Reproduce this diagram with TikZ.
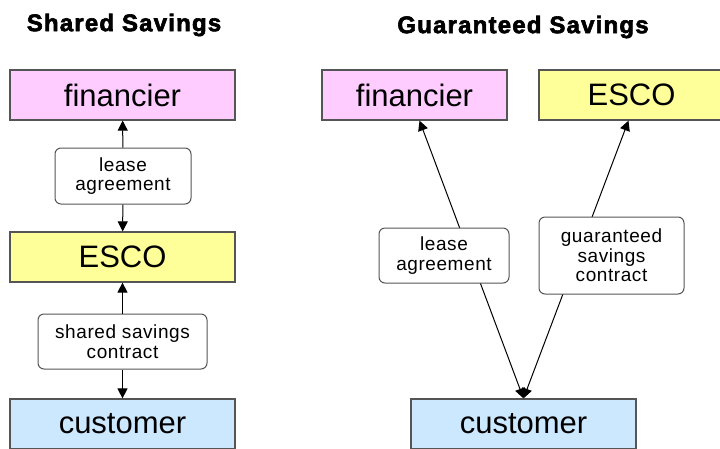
\documentclass[tikz,border=0pt]{standalone}
\usepackage{fontspec}
\setmainfont{Liberation Sans}
\usetikzlibrary{arrows.meta}
\definecolor{pinkbox}{RGB}{255,204,255}
\definecolor{yellowbox}{RGB}{255,255,153}
\definecolor{bluebox}{RGB}{204,232,255}
\definecolor{edge}{RGB}{85,85,85}
\tikzset{
  party/.style={draw=edge, line width=1.2pt, minimum height=50pt, inner sep=0pt,
    font=\fontsize{31}{34}\selectfont},
  deal/.style={draw=edge, fill=white, line width=1pt, rounded corners=6pt, align=center,
    inner sep=0pt, font=\addfontfeature{LetterSpace=3}\fontsize{19}{19.5}\selectfont},
  heading/.style={font=\addfontfeature{LetterSpace=5,FakeBold=2.5}\fontsize{24}{26}\bfseries},
  flow/.style={line width=1pt, -{Triangle[length=10pt,width=10pt]}},
  twoway/.style={line width=1pt, {Triangle[length=10pt,width=10pt]}-{Triangle[length=10pt,width=10pt]}},
}
\begin{document}
\begin{tikzpicture}[x=1pt,y=-1pt]
  \useasboundingbox (0,0) rectangle (720,448);
  \clip (0,0) rectangle (720,448);
  % shared savings
  \node[heading] (title1) at (124,25) {Shared Savings};
  \node[party, fill=pinkbox, minimum width=225pt] (fin1) at (122.5,95) {financier};
  \node[deal, minimum width=136pt, minimum height=56pt] (lease1) at (123,176) {lease\\agreement};
  \node[party, fill=yellowbox, minimum width=225pt] (esco1) at (122.5,257) {ESCO};
  \node[deal, minimum width=169pt, minimum height=55pt] (ssc) at (122.5,341.5) {shared savings\\contract};
  \node[party, fill=bluebox, minimum width=225pt] (cust1) at (122.5,424) {customer};
  \draw[flow] (lease1) -- (fin1);
  \draw[flow] (lease1) -- (esco1);
  \draw[flow] (ssc) -- (esco1);
  \draw[flow] (ssc) -- (cust1);
  % guaranteed savings
  \node[heading] (title2) at (523,27) {Guaranteed Savings};
  \node[party, fill=pinkbox, minimum width=185pt] (fin2) at (414.5,95) {financier};
  \node[party, fill=yellowbox, minimum width=185pt] (esco2) at (631.5,95) {ESCO};
  \node[party, fill=bluebox, minimum width=225pt] (cust2) at (523.5,424) {customer};
  \coordinate (meet) at (cust2.north);
  \draw[twoway] (meet) -- ([xshift=5pt]fin2.south);
  \draw[twoway] (meet) -- ([xshift=-3pt]esco2.south);
  \node[deal, minimum width=130pt, minimum height=55pt] (lease2) at (444,255.5) {lease\\agreement};
  \node[deal, minimum width=145pt, minimum height=77pt] (gsc) at (611.5,255.5) {guaranteed\\savings\\contract};
\end{tikzpicture}
\end{document}
